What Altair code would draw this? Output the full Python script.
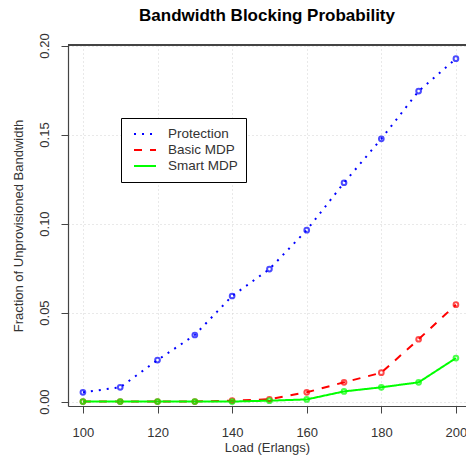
import altair as alt
import pandas as pd

loads = [100, 110, 120, 130, 140, 150, 160, 170, 180, 190, 200]
protection = [0.0052, 0.0080, 0.0233, 0.0374, 0.0593, 0.0744, 0.0963, 0.1229, 0.1476, 0.1744, 0.1926]
basic_mdp = [0.0, 0.0, 0.0, 0.0, 0.0005, 0.0013, 0.0052, 0.0108, 0.0162, 0.0350, 0.0544]
smart_mdp = [0.0, 0.0, 0.0, 0.0, 0.0, 0.0005, 0.0012, 0.0057, 0.0080, 0.0108, 0.0244]

names = ["Protection", "Basic MDP", "Smart MDP"]
colors = ["#0000ff", "#ff0000", "#00ff00"]
dashes = [[2, 6], [8, 8], [1, 0]]

rows = []
for k, (name, vals) in enumerate(zip(names, [protection, basic_mdp, smart_mdp])):
    for l, v in zip(loads, vals):
        rows.append({"load": l, "value": v, "series": name, "ord": k})
df = pd.DataFrame(rows)

FONT = "Liberation Sans"
W, H = 398, 361

xscale = alt.Scale(domain=[96.0, 202.7], nice=False, zero=False)
yscale = alt.Scale(domain=[-0.0025, 0.2003], nice=False, zero=False)

xaxis = alt.Axis(values=[100, 120, 140, 160, 180, 200], title="Load (Erlangs)",
                 grid=True, gridColor="#d3d3d3", gridDash=[1, 3], gridWidth=1,
                 tickSize=7, tickColor="#444", domainColor="#444", domainWidth=1.2,
                 labelFont=FONT, labelFontSize=13, labelColor="#333", labelPadding=13,
                 titleFont=FONT, titleFontSize=13, titleFontWeight="normal", titleColor="#333",
                 titlePadding=2, labelFlush=False)
yaxis = alt.Axis(values=[0, 0.05, 0.10, 0.15, 0.20], format=".2f",
                 title="Fraction of Unprovisioned Bandwidth",
                 grid=True, gridColor="#d3d3d3", gridDash=[1, 3], gridWidth=1,
                 tickSize=7, tickColor="#444", domainColor="#444", domainWidth=1.2,
                 labelFont=FONT, labelFontSize=13, labelColor="#333", labelAngle=270,
                 labelAlign="center", labelBaseline="bottom", labelPadding=10, labelFlush=False,
                 titleFont=FONT, titleFontSize=13, titleFontWeight="normal", titleColor="#333",
                 titlePadding=13)

leg = dict(title=None, orient="none", legendX=53, legendY=73,
           padding=8, strokeColor="black", fillColor="white",
           symbolType="stroke", symbolSize=484, symbolStrokeWidth=2, symbolOffset=4,
           clipHeight=16,
           labelFont=FONT, labelFontSize=13.5, labelColor="#333",
           labelExpr="datum.label + '\u00a0\u00a0\u00a0\u00a0'",
           labelOffset=11, rowPadding=0, cornerRadius=0)

base = alt.Chart(df)

lines = base.mark_line(strokeWidth=2).encode(
    x=alt.X("load:Q", scale=xscale, axis=xaxis),
    y=alt.Y("value:Q", scale=yscale, axis=yaxis),
    color=alt.Color("series:N", scale=alt.Scale(domain=names, range=colors),
                    legend=alt.Legend(**leg)),
    strokeDash=alt.StrokeDash("series:N", scale=alt.Scale(domain=names, range=dashes),
                              legend=alt.Legend(**leg)),
    detail="series:N",
    order="ord:Q",
)

points = base.mark_point(filled=False, size=22, strokeWidth=2).encode(
    x=alt.X("load:Q", scale=xscale),
    y=alt.Y("value:Q", scale=yscale),
    color=alt.Color("series:N", scale=alt.Scale(domain=names, range=colors), legend=None),
)

top_border = alt.Chart(df).mark_rule(color="#444", strokeWidth=1.2).encode(
    x=alt.value(0), x2=alt.value(W), y=alt.value(0)
)

chart = alt.layer(lines, points, top_border).properties(
    width=W, height=H,
    autosize=alt.AutoSizeParams(type="none"),
    padding={"left": 60, "top": 37, "right": 0, "bottom": 52},
    title=alt.TitleParams("Bandwidth Blocking Probability", font=FONT, fontSize=17,
                          fontWeight="bold", color="black", anchor="middle",
                          baseline="alphabetic", offset=13, dy=18),
).configure_view(stroke=None).configure(background="white")

chart.save("out.html", embed_options={"renderer": "svg", "actions": False})
